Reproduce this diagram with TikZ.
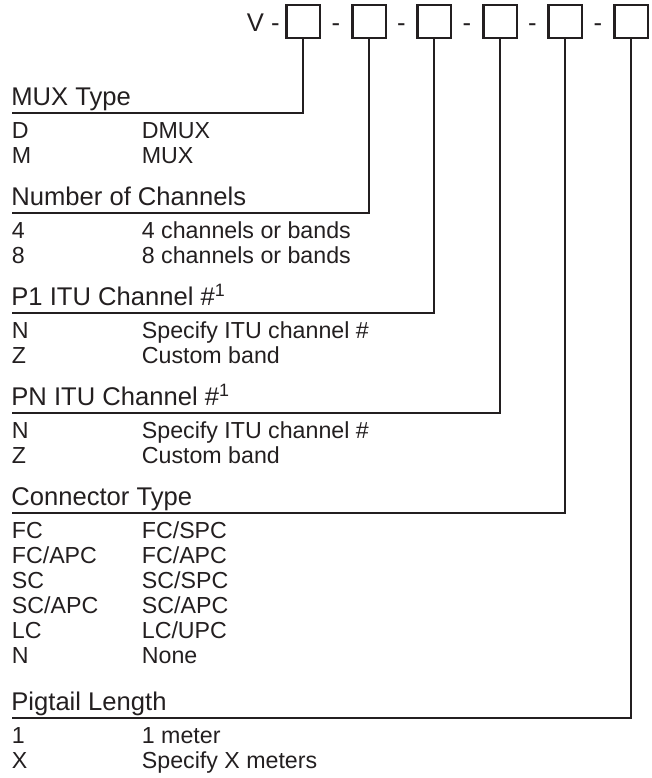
\documentclass[tikz,border=0pt]{standalone}
\usepackage{fontspec}
\setmainfont{Liberation Sans}
\usetikzlibrary{positioning}
\definecolor{ink}{RGB}{35,31,32}
\newcommand{\opts}[1]{\begin{tabular}[t]{@{}p{65pt}@{}l@{}}#1\end{tabular}}
\tikzset{
  slot/.style={draw=ink,line width=1.3pt,minimum width=16.8pt,minimum height=16.4pt,inner sep=0pt},
  sep/.style={inner sep=0pt,anchor=base,text=ink,font=\fontsize{12.8}{15}\selectfont},
  head/.style={inner sep=0pt,anchor=base west,text=ink,font=\fontsize{12.8}{15}\selectfont},
  body/.style={inner sep=0pt,anchor=base west,text=ink,font=\fontsize{11.6}{12.5}\selectfont},
  lead/.style={draw=ink,line width=1.4pt},
}
\begin{document}
\begin{tikzpicture}[x=0.5pt,y=-0.5pt]
  \useasboundingbox (0,0) rectangle (652,778);
  % order code boxes
  \node[slot] (b1) at (303,21.5) {};
  \node[slot] (b2) at (369,21.5) {};
  \node[slot] (b3) at (434,21.5) {};
  \node[slot] (b4) at (500,21.5) {};
  \node[slot] (b5) at (565,21.5) {};
  \node[slot] (b6) at (631,21.5) {};
  \node[sep,anchor=base east] (v) at (280,31.5) {V -};
  \node[sep] (d1) at (336,31.5) {-};
  \node[sep] (d2) at (401.5,31.5) {-};
  \node[sep] (d3) at (467,31.5) {-};
  \node[sep] (d4) at (532.5,31.5) {-};
  \node[sep] (d5) at (598,31.5) {-};
  % fields
  \node[head] (h1) at (11,105) {MUX Type};
  \coordinate (u1) at (12,113);
  \node[body] (o1) at (11.5,138) {\opts{D & DMUX\\ M & MUX}};
  \node[head] (h2) at (11,205) {Number of Channels};
  \coordinate (u2) at (12,213);
  \node[body] (o2) at (11.5,238) {\opts{4 & 4 channels or bands\\ 8 & 8 channels or bands}};
  \node[head] (h3) at (11,305) {P1 ITU Channel \#\textsuperscript{1}};
  \coordinate (u3) at (12,313);
  \node[body] (o3) at (11.5,338) {\opts{N & Specify ITU channel \#\\ Z & Custom band}};
  \node[head] (h4) at (11,405) {PN ITU Channel \#\textsuperscript{1}};
  \coordinate (u4) at (12,413);
  \node[body] (o4) at (11.5,438) {\opts{N & Specify ITU channel \#\\ Z & Custom band}};
  \node[head] (h5) at (11,505) {Connector Type};
  \coordinate (u5) at (12,513);
  \node[body] (o5) at (11.5,538) {\opts{FC & FC/SPC\\ FC/APC & FC/APC\\ SC & SC/SPC\\
    SC/APC & SC/APC\\ LC & LC/UPC\\ N & None}};
  \node[head] (h6) at (11,710) {Pigtail Length};
  \coordinate (u6) at (12,718);
  \node[body] (o6) at (11.5,743) {\opts{1 & 1 meter\\ X & Specify X meters}};
  % leads
  \draw[lead] (b1.south) |- (u1);
  \draw[lead] (b2.south) |- (u2);
  \draw[lead] (b3.south) |- (u3);
  \draw[lead] (b4.south) |- (u4);
  \draw[lead] (b5.south) |- (u5);
  \draw[lead] (b6.south) |- (u6);
\end{tikzpicture}
\end{document}
